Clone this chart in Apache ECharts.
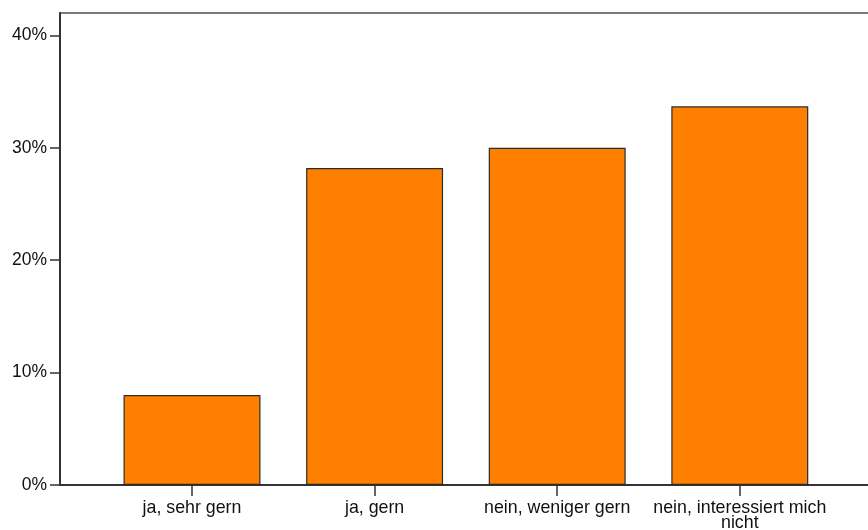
<!DOCTYPE html>
<html>
<head>
<meta charset="utf-8">
<script src="https://cdn.jsdelivr.net/npm/echarts@6/dist/echarts.min.js"></script>
<style>
html,body{margin:0;padding:0;background:#fff;}
#chart{width:868px;height:530px;}
</style>
</head>
<body>
<div id="chart"></div>
<script>
const categories = ['ja, sehr gern', 'ja, gern', 'nein, weniger gern', 'nein, interessiert mich\nnicht'];
const percentValues = [8.0, 28.2, 30.0, 33.7];
const yTicks = [0, 10, 20, 30, 40];
const yMax = 42;

const chart = echarts.init(document.getElementById('chart'), null, {renderer: 'canvas'});
const font = 'Liberation Sans, Arial, sans-serif';
chart.setOption({
  animation: false,
  backgroundColor: '#ffffff',
  grid: [
    {left: 60, right: -40, top: 13, bottom: 45, outerBoundsMode: 'none', containLabel: false,
     show: true, borderColor: '#7a7a7a', borderWidth: 2, backgroundColor: 'transparent'},
    {left: 100.7, width: 730.4, top: 13, bottom: 45, outerBoundsMode: 'none', containLabel: false}
  ],
  xAxis: [
    {gridIndex: 0, type: 'value', min: 0, max: 1,
     axisLine: {show: true, lineStyle: {color: '#333', width: 2}},
     axisTick: {show: false}, axisLabel: {show: false}, splitLine: {show: false}},
    {gridIndex: 1, type: 'category', data: categories, boundaryGap: true,
     axisLine: {show: false},
     axisTick: {show: true, alignWithLabel: true, length: 11, lineStyle: {color: '#333', width: 1.5}},
     axisLabel: {color: '#111', fontFamily: font, fontSize: 17.8, lineHeight: 15, margin: 16, interval: 0}}
  ],
  yAxis: [
    {gridIndex: 0, type: 'value', min: 0, max: yMax, interval: 10,
     axisLine: {show: true, lineStyle: {color: '#333', width: 2}},
     axisTick: {show: true, length: 10, customValues: yTicks, lineStyle: {color: '#333', width: 1.5}},
     axisLabel: {customValues: yTicks, formatter: '{value}%', color: '#111', fontFamily: font, fontSize: 17.5, margin: 13},
     splitLine: {show: false}},
    {gridIndex: 1, type: 'value', min: 0, max: yMax, show: false, splitLine: {show: false}}
  ],
  series: [{
    type: 'bar',
    xAxisIndex: 1, yAxisIndex: 1,
    data: percentValues,
    barWidth: '75%',
    itemStyle: {color: '#FF8000', borderColor: '#2b2b2b', borderWidth: 1.2},
    z: 1
  }]
});
</script>
</body>
</html>
